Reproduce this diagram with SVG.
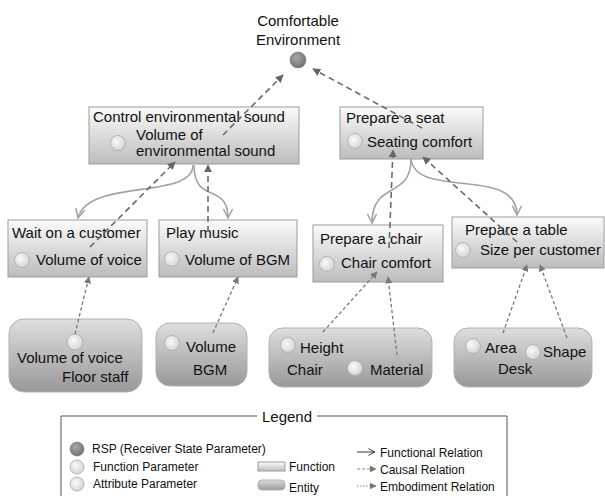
<svg xmlns="http://www.w3.org/2000/svg" width="605" height="496" viewBox="0 0 605 496">
  <defs>
    <linearGradient id="gFunc" x1="0" y1="0" x2="0" y2="1">
      <stop offset="0" stop-color="#fbfbfb"/>
      <stop offset="1" stop-color="#bcbcbc"/>
    </linearGradient>
    <linearGradient id="gEnt" x1="0" y1="0" x2="0" y2="1">
      <stop offset="0" stop-color="#dedede"/>
      <stop offset="1" stop-color="#989898"/>
    </linearGradient>
    <radialGradient id="gParam" cx="0.4" cy="0.4" r="0.7">
      <stop offset="0" stop-color="#fafafa"/>
      <stop offset="1" stop-color="#cfcfcf"/>
    </radialGradient>
    <radialGradient id="gRsp" cx="0.4" cy="0.35" r="0.7">
      <stop offset="0" stop-color="#a8a8a8"/>
      <stop offset="1" stop-color="#6e6e6e"/>
    </radialGradient>
    <marker id="mCausal" viewBox="0 0 10 10" refX="9" refY="5" markerWidth="8" markerHeight="8" markerUnits="userSpaceOnUse" orient="auto">
      <path d="M0,0 L10,5 L0,10 z" fill="#666"/>
    </marker>
    <marker id="mEmb" viewBox="0 0 10 10" refX="9" refY="5" markerWidth="7" markerHeight="7" markerUnits="userSpaceOnUse" orient="auto">
      <path d="M0,0 L10,5 L0,10 z" fill="#777"/>
    </marker>
    <marker id="mFunc" viewBox="0 0 12 12" refX="11" refY="6" markerWidth="11" markerHeight="11" markerUnits="userSpaceOnUse" orient="auto">
      <path d="M1,1 L11,6 L1,11" fill="none" stroke="#a3a3a3" stroke-width="1.6"/>
    </marker>
    <marker id="mFuncLeg" viewBox="0 0 12 12" refX="11" refY="6" markerWidth="8" markerHeight="8" markerUnits="userSpaceOnUse" orient="auto">
      <path d="M1,1 L11,6 L1,11" fill="none" stroke="#333" stroke-width="1.4"/>
    </marker>
  </defs>
  <style>
    text { font-family: "Liberation Sans", Arial, sans-serif; font-size: 15px; fill: #111; }
    .leg { font-size: 12px; }
    .func { fill: url(#gFunc); stroke: #9c9c9c; stroke-width: 1; }
    .ent { fill: url(#gEnt); stroke: #b0b0b0; stroke-width: 1; }
    .param { fill: url(#gParam); stroke: #a9a9a9; stroke-width: 0.8; }
    .rsp { fill: url(#gRsp); stroke: #777; stroke-width: 0.6; }
    .causal { fill: none; stroke: #6a6a6a; stroke-width: 1.6; stroke-dasharray: 6 4; marker-end: url(#mCausal); }
    .emb { fill: none; stroke: #787878; stroke-width: 1.3; stroke-dasharray: 3.5 2.5; marker-end: url(#mEmb); }
    .fn { fill: none; stroke: #a3a3a3; stroke-width: 1.6; marker-end: url(#mFunc); }
  </style>

  <rect width="605" height="496" fill="#ffffff"/>

  <!-- top state parameter -->
  <g id="rsp-comfortable">
    <text x="298" y="26" text-anchor="middle">Comfortable</text>
    <text x="298" y="45" text-anchor="middle">Environment</text>
    <circle class="rsp" cx="298" cy="60" r="8"/>
  </g>

  <!-- functions -->
  <g id="f-control-sound">
    <rect class="func" x="89" y="107" width="210" height="57"/>
    <text x="93" y="122">Control environmental sound</text>
    <circle class="param" cx="118" cy="143" r="7.5"/>
    <text x="136" y="140">Volume of</text>
    <text x="136" y="156">environmental sound</text>
  </g>
  <g id="f-prepare-seat">
    <rect class="func" x="340" y="107" width="143" height="52"/>
    <text x="346" y="123">Prepare a seat</text>
    <circle class="param" cx="355" cy="141" r="7.5"/>
    <text x="367" y="147">Seating comfort</text>
  </g>
  <g id="f-wait-customer">
    <rect class="func" x="8" y="220" width="139" height="57"/>
    <text x="12" y="238">Wait on a customer</text>
    <circle class="param" cx="22" cy="260" r="7.5"/>
    <text x="36" y="265">Volume of voice</text>
  </g>
  <g id="f-play-music">
    <rect class="func" x="159" y="220" width="138" height="57"/>
    <text x="166" y="238">Play music</text>
    <circle class="param" cx="172" cy="259" r="7.5"/>
    <text x="185" y="265">Volume of BGM</text>
  </g>
  <g id="f-prepare-chair">
    <rect class="func" x="313" y="225" width="130" height="57"/>
    <text x="320" y="244">Prepare a chair</text>
    <circle class="param" cx="327" cy="264" r="7.5"/>
    <text x="341" y="268">Chair comfort</text>
  </g>
  <g id="f-prepare-table">
    <rect class="func" x="452" y="217" width="152" height="51"/>
    <text x="465" y="235">Prepare a table</text>
    <circle class="param" cx="463" cy="250" r="7.5"/>
    <text x="480" y="255">Size per customer</text>
  </g>

  <!-- entities -->
  <g id="e-floor-staff">
    <rect class="ent" x="9" y="319" width="133" height="73" rx="15"/>
    <circle class="param" cx="75" cy="342" r="8"/>
    <text x="17" y="363">Volume of voice</text>
    <text x="62" y="382">Floor staff</text>
  </g>
  <g id="e-bgm">
    <rect class="ent" x="156" y="323" width="91" height="63" rx="14"/>
    <circle class="param" cx="172" cy="343" r="7.5"/>
    <text x="186" y="352">Volume</text>
    <text x="193" y="375">BGM</text>
  </g>
  <g id="e-chair">
    <rect class="ent" x="269" y="328" width="163" height="59" rx="14"/>
    <circle class="param" cx="288" cy="345" r="7.5"/>
    <text x="300" y="353">Height</text>
    <text x="287" y="375">Chair</text>
    <circle class="param" cx="355" cy="368" r="7.5"/>
    <text x="370" y="375">Material</text>
  </g>
  <g id="e-desk">
    <rect class="ent" x="454" y="328" width="138" height="59" rx="14"/>
    <circle class="param" cx="473" cy="346" r="7.5"/>
    <text x="485" y="353">Area</text>
    <circle class="param" cx="533" cy="352" r="7.5"/>
    <text x="543" y="357">Shape</text>
    <text x="498" y="374">Desk</text>
  </g>

  <!-- relations -->
  <g id="connectors">
    <!-- functional decomposition -->
    <path class="fn" d="M193,165 C193,200 88,178 78,218"/>
    <path class="fn" d="M194,165 C194,205 228,182 228,218"/>
    <path class="fn" d="M411,159 C411,200 372,180 372,223"/>
    <path class="fn" d="M411,159 C416,200 517,165 517,215"/>
    <!-- causal relations -->
    <path class="causal" d="M223,135 L283,75"/>
    <path class="causal" d="M422,128 L313,69"/>
    <path class="causal" d="M90,247 L175,162"/>
    <path class="causal" d="M208,232 L208,165"/>
    <path class="causal" d="M389,248 L393,150"/>
    <path class="causal" d="M517,242 L423,157"/>
    <!-- embodiment relations -->
    <path class="emb" d="M75,334 L89,277"/>
    <path class="emb" d="M213,333 L238,277"/>
    <path class="emb" d="M323,332 L377,272"/>
    <path class="emb" d="M397,355 L388,277"/>
    <path class="emb" d="M503,333 L527,265"/>
    <path class="emb" d="M567,338 L540,265"/>
  </g>

  <!-- legend -->
  <g id="legend">
    <path d="M257,416 H61 V497 M317,416 H507 V497" fill="none" stroke="#555" stroke-width="1"/>
    <text x="287" y="422" text-anchor="middle" font-size="13">Legend</text>
    <circle class="rsp" cx="77" cy="449" r="7"/>
    <text class="leg" x="92" y="453">RSP (Receiver State Parameter)</text>
    <circle class="param" cx="77" cy="467" r="7"/>
    <text class="leg" x="93" y="471">Function Parameter</text>
    <circle class="param" cx="77" cy="484" r="7"/>
    <text class="leg" x="93" y="488">Attribute Parameter</text>
    <rect class="func" x="258" y="462" width="27" height="9"/>
    <text class="leg" x="289" y="471">Function</text>
    <rect class="ent" x="258" y="480" width="27" height="10" rx="4"/>
    <text class="leg" x="289" y="492">Entity</text>
    <path d="M357,452 L375,452" fill="none" stroke="#333" stroke-width="1" marker-end="url(#mFuncLeg)"/>
    <text class="leg" x="380" y="457">Functional Relation</text>
    <path d="M357,469 L376,469" fill="none" stroke="#888" stroke-width="1" stroke-dasharray="3 2" marker-end="url(#mEmb)"/>
    <text class="leg" x="380" y="474">Causal Relation</text>
    <path d="M357,486 L376,486" fill="none" stroke="#888" stroke-width="1" stroke-dasharray="1.5 1.5" marker-end="url(#mEmb)"/>
    <text class="leg" x="380" y="491">Embodiment Relation</text>
  </g>
</svg>
